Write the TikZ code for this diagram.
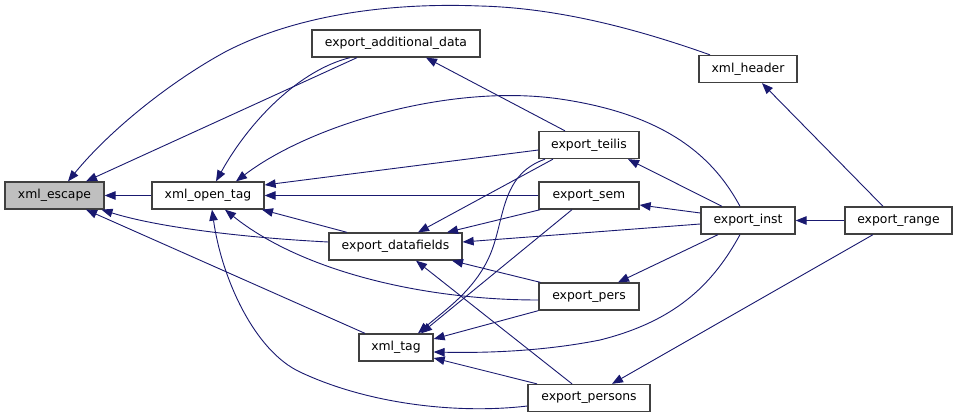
\documentclass[tikz,border=0pt]{standalone}
\usepackage{fontspec}
\setmainfont{DejaVu Sans}
\usetikzlibrary{arrows.meta}
\definecolor{edgeblue}{HTML}{191970}
\definecolor{boxline}{HTML}{404040}
\definecolor{hilite}{HTML}{BFBFBF}
\begin{document}
\begin{tikzpicture}[x=1pt,y=-1pt,
  fn/.style={draw=boxline,line width=1.3pt,fill=white,rectangle,inner sep=0pt,
    minimum height=27pt,font=\fontsize{12.4}{14}\selectfont},
  call/.style={draw=edgeblue,line width=0.9pt,-{Triangle[length=11pt,width=8.5pt]},
    fill=none},
]
\fill[white] (0,0) rectangle (957,417);
\useasboundingbox (0,0) rectangle (957,417);

\node[fn,fill=hilite,minimum width=99pt] (E) at (54.5,195.5) {xml\_escape};
\node[fn,minimum width=112pt] (O) at (208,195.5) {xml\_open\_tag};
\node[fn,minimum width=168pt] (A) at (396,43.5) {export\_additional\_data};
\node[fn,minimum width=133pt] (D) at (395.5,246.5) {export\_datafields};
\node[fn,minimum width=74pt] (T) at (396,347.5) {xml\_tag};
\node[fn,minimum width=100pt] (TE) at (589,145) {export\_teilis};
\node[fn,minimum width=100pt] (S) at (589,195.5) {export\_sem};
\node[fn,minimum width=100pt] (P) at (589,296.5) {export\_pers};
\node[fn,minimum width=122pt] (PS) at (589,398) {export\_persons};
\node[fn,minimum width=98pt] (H) at (748,69) {xml\_header};
\node[fn,minimum width=94pt] (I) at (748,220.5) {export\_inst};
\node[fn,minimum width=107pt] (R) at (898.5,220.5) {export\_range};

% callers of xml_escape
\draw[call] ([xshift=-38pt]H.north) .. controls (640,30) and (560,8) .. (480,6)
  .. controls (380,2) and (290,18) .. (225,52)
  .. controls (170,82) and (110,130) .. ([xshift=13.5pt]E.north);
\draw[call] ([xshift=-39pt]A.south) -- ([xshift=31.5pt]E.north);
\draw[call] (O.west) -- (E.east);
\draw[call] ([yshift=4.5pt]D.west) .. controls (250,238) and (160,228) .. ([xshift=47pt]E.south);
\draw[call] ([xshift=-31pt]T.north) -- ([xshift=31.5pt]E.south);

% callers of xml_open_tag
\draw[call] ([xshift=-46pt]A.south) .. controls (300,70) and (250,120) .. ([xshift=8pt]O.north);
\draw[call] ([xshift=-8pt]I.north) .. controls (715,160) and (670,115) .. (560,99)
  .. controls (450,83) and (310,125) .. ([xshift=28pt]O.north);
\draw[call] ([yshift=-5pt]TE.west) -- ([yshift=10.5pt]O.east);
\draw[call] (S.west) -- (O.east);
\draw[call] ([xshift=-48.5pt]D.north) -- ([xshift=54pt]O.south);
\draw[call] ([yshift=-3.5pt]P.west) .. controls (420,300) and (300,270) .. ([xshift=17pt]O.south);
\draw[call] ([yshift=-8pt]PS.west) .. controls (460,414) and (370,405) .. (300,372)
  .. controls (255,351) and (222,280) .. ([xshift=4pt]O.south);

% caller of export_additional_data
\draw[call] ([xshift=-24pt]TE.north) -- ([xshift=30pt]A.south);

% callers of export_datafields
\draw[call] ([xshift=-36pt]TE.south) -- ([xshift=22.5pt]D.north);
\draw[call] ([xshift=2pt]S.south west) -- ([xshift=51.5pt]D.north);
\draw[call] ([yshift=-3.5pt]I.west) -- ([yshift=4.5pt]D.east);
\draw[call] ([xshift=2pt]P.north west) -- ([xshift=56.5pt]D.south);
\draw[call] ([xshift=-17pt]PS.north) -- ([xshift=20.5pt]D.south);

% callers of xml_tag
\draw[call] ([xshift=-44pt]TE.south) .. controls (500,175) and (505,220) .. (490,255)
  .. controls (475,290) and (445,310) .. ([xshift=22pt]T.north);
\draw[call] ([xshift=-17pt]S.south) -- ([xshift=25pt]T.north);
\draw[call] (P.south west) -- ([yshift=8.5pt]T.east);
\draw[call] ([xshift=-8pt]I.south) .. controls (715,280) and (680,320) .. (600,340)
  .. controls (540,352) and (480,353) .. ([yshift=-4.5pt]T.east);
\draw[call] ([xshift=-52pt]PS.north) -- ([yshift=-10.5pt]T.east);

% callers from export_inst
\draw[call] ([xshift=-26pt]I.north) -- ([xshift=39pt]TE.south);
\draw[call] ([yshift=7.5pt]I.west) -- ([yshift=-9.5pt]S.east);
\draw[call] ([xshift=-30pt]I.south) -- ([xshift=29pt]P.north);

% callers from export_range
\draw[call] (R.west) -- (I.east);
\draw[call] ([xshift=-15.5pt]R.north) -- ([xshift=14pt]H.south);
\draw[call] ([xshift=-25.5pt]R.south) -- ([xshift=23pt]PS.north);
\end{tikzpicture}
\end{document}
